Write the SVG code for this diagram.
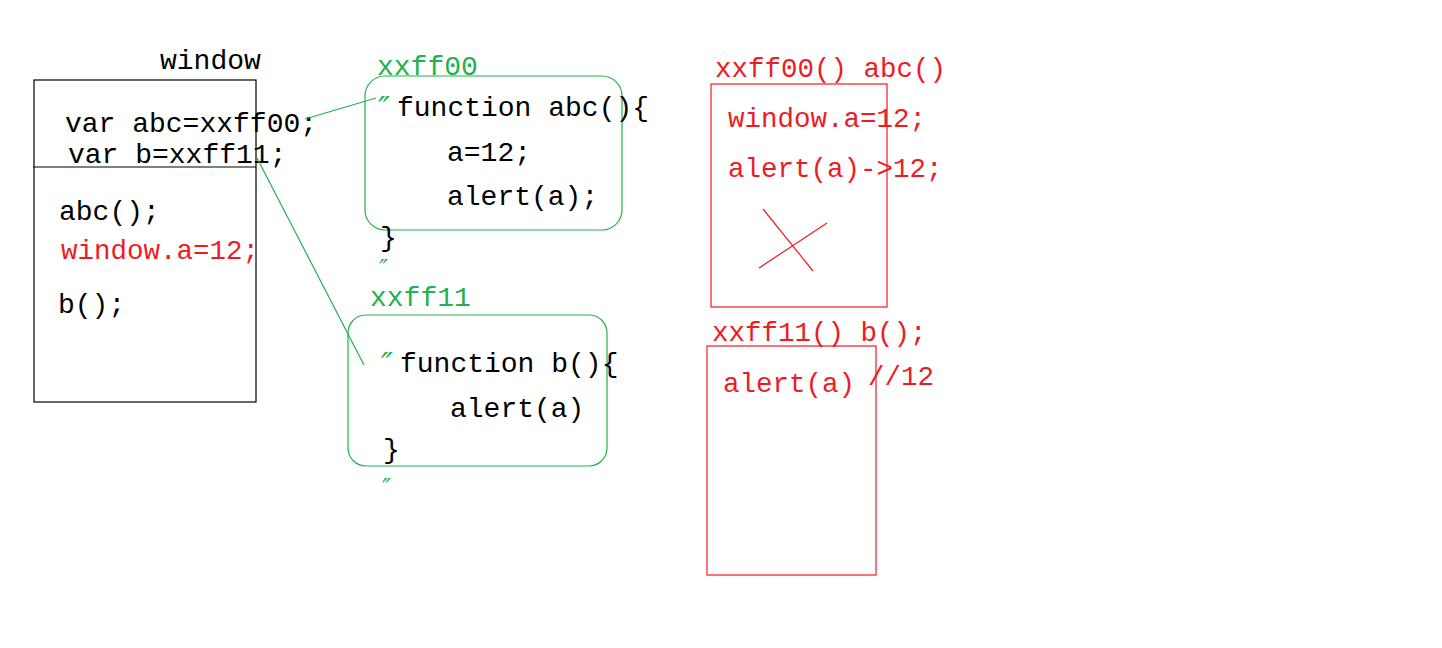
<svg xmlns="http://www.w3.org/2000/svg" width="1442" height="648" viewBox="0 0 1442 648">
<style>
text{font-family:"Liberation Mono","DejaVu Sans Mono",monospace;font-size:28px;white-space:pre}
.k{fill:#000}
.r{fill:#ed1c24;font-size:27.5px}
.g{fill:#22b14c}
.q{fill:#22b14c;font-family:"DejaVu Sans",sans-serif;font-style:italic;font-size:32px}
.qs{font-size:24px}
.bk{fill:none;stroke:#000;stroke-width:1.2}
.rd{fill:none;stroke:#ed1c24;stroke-width:1.2}
.gn{fill:none;stroke:#22b14c;stroke-width:1.2}
</style>
<rect width="1442" height="648" fill="#fff"/>
<g id="window">
<text class="k" x="160" y="69">window</text>
<rect class="bk" x="34" y="80" width="222" height="322"/>
<line class="bk" x1="33" y1="167" x2="256" y2="167"/>
<text class="k" x="65" y="132">var abc=xxff00;</text>
<text class="k" x="68" y="163">var b=xxff11;</text>
<text class="k" x="59" y="220">abc();</text>
<text class="r" x="61" y="259">window.a=12;</text>
<text class="k" x="58" y="313">b();</text>
</g>
<g id="fn-abc">
<text class="g" x="377" y="75">xxff00</text>
<rect class="gn" x="365" y="76" width="257" height="154" rx="20"/>
<text class="q" x="378" y="119">″</text>
<text class="k" x="397" y="116">function abc(){</text>
<text class="k" x="447" y="161">a=12;</text>
<text class="k" x="447" y="205">alert(a);</text>
<text class="k" x="380" y="246">}</text>
<text class="q qs" x="379" y="277">″</text>
</g>
<g id="fn-b">
<text class="g" x="370" y="306">xxff11</text>
<rect class="gn" x="348" y="315" width="259" height="151" rx="18"/>
<text class="q" x="381" y="375">″</text>
<text class="k" x="400" y="372">function b(){</text>
<text class="k" x="450" y="417">alert(a)</text>
<text class="k" x="383" y="458">}</text>
<text class="q qs" x="382" y="496">″</text>
</g>
<g id="exec-abc">
<text class="r" x="715" y="77">xxff00() abc()</text>
<rect class="rd" x="711" y="84" width="176" height="223"/>
<text class="r" x="728" y="127">window.a=12;</text>
<text class="r" x="728" y="177">alert(a)->12;</text>
<line class="rd" x1="763" y1="209" x2="813" y2="271"/>
<line class="rd" x1="759" y1="268" x2="827" y2="223"/>
</g>
<g id="exec-b">
<text class="r" x="712" y="341">xxff11() b();</text>
<rect class="rd" x="707" y="346" width="169" height="229"/>
<text class="r" x="723" y="392">alert(a)</text>
<text class="r" x="868" y="385">//12</text>
</g>
<g id="connectors">
<line class="gn" x1="305" y1="119" x2="376" y2="98"/>
<line class="gn" x1="257" y1="158" x2="364" y2="365"/>
</g>
</svg>
